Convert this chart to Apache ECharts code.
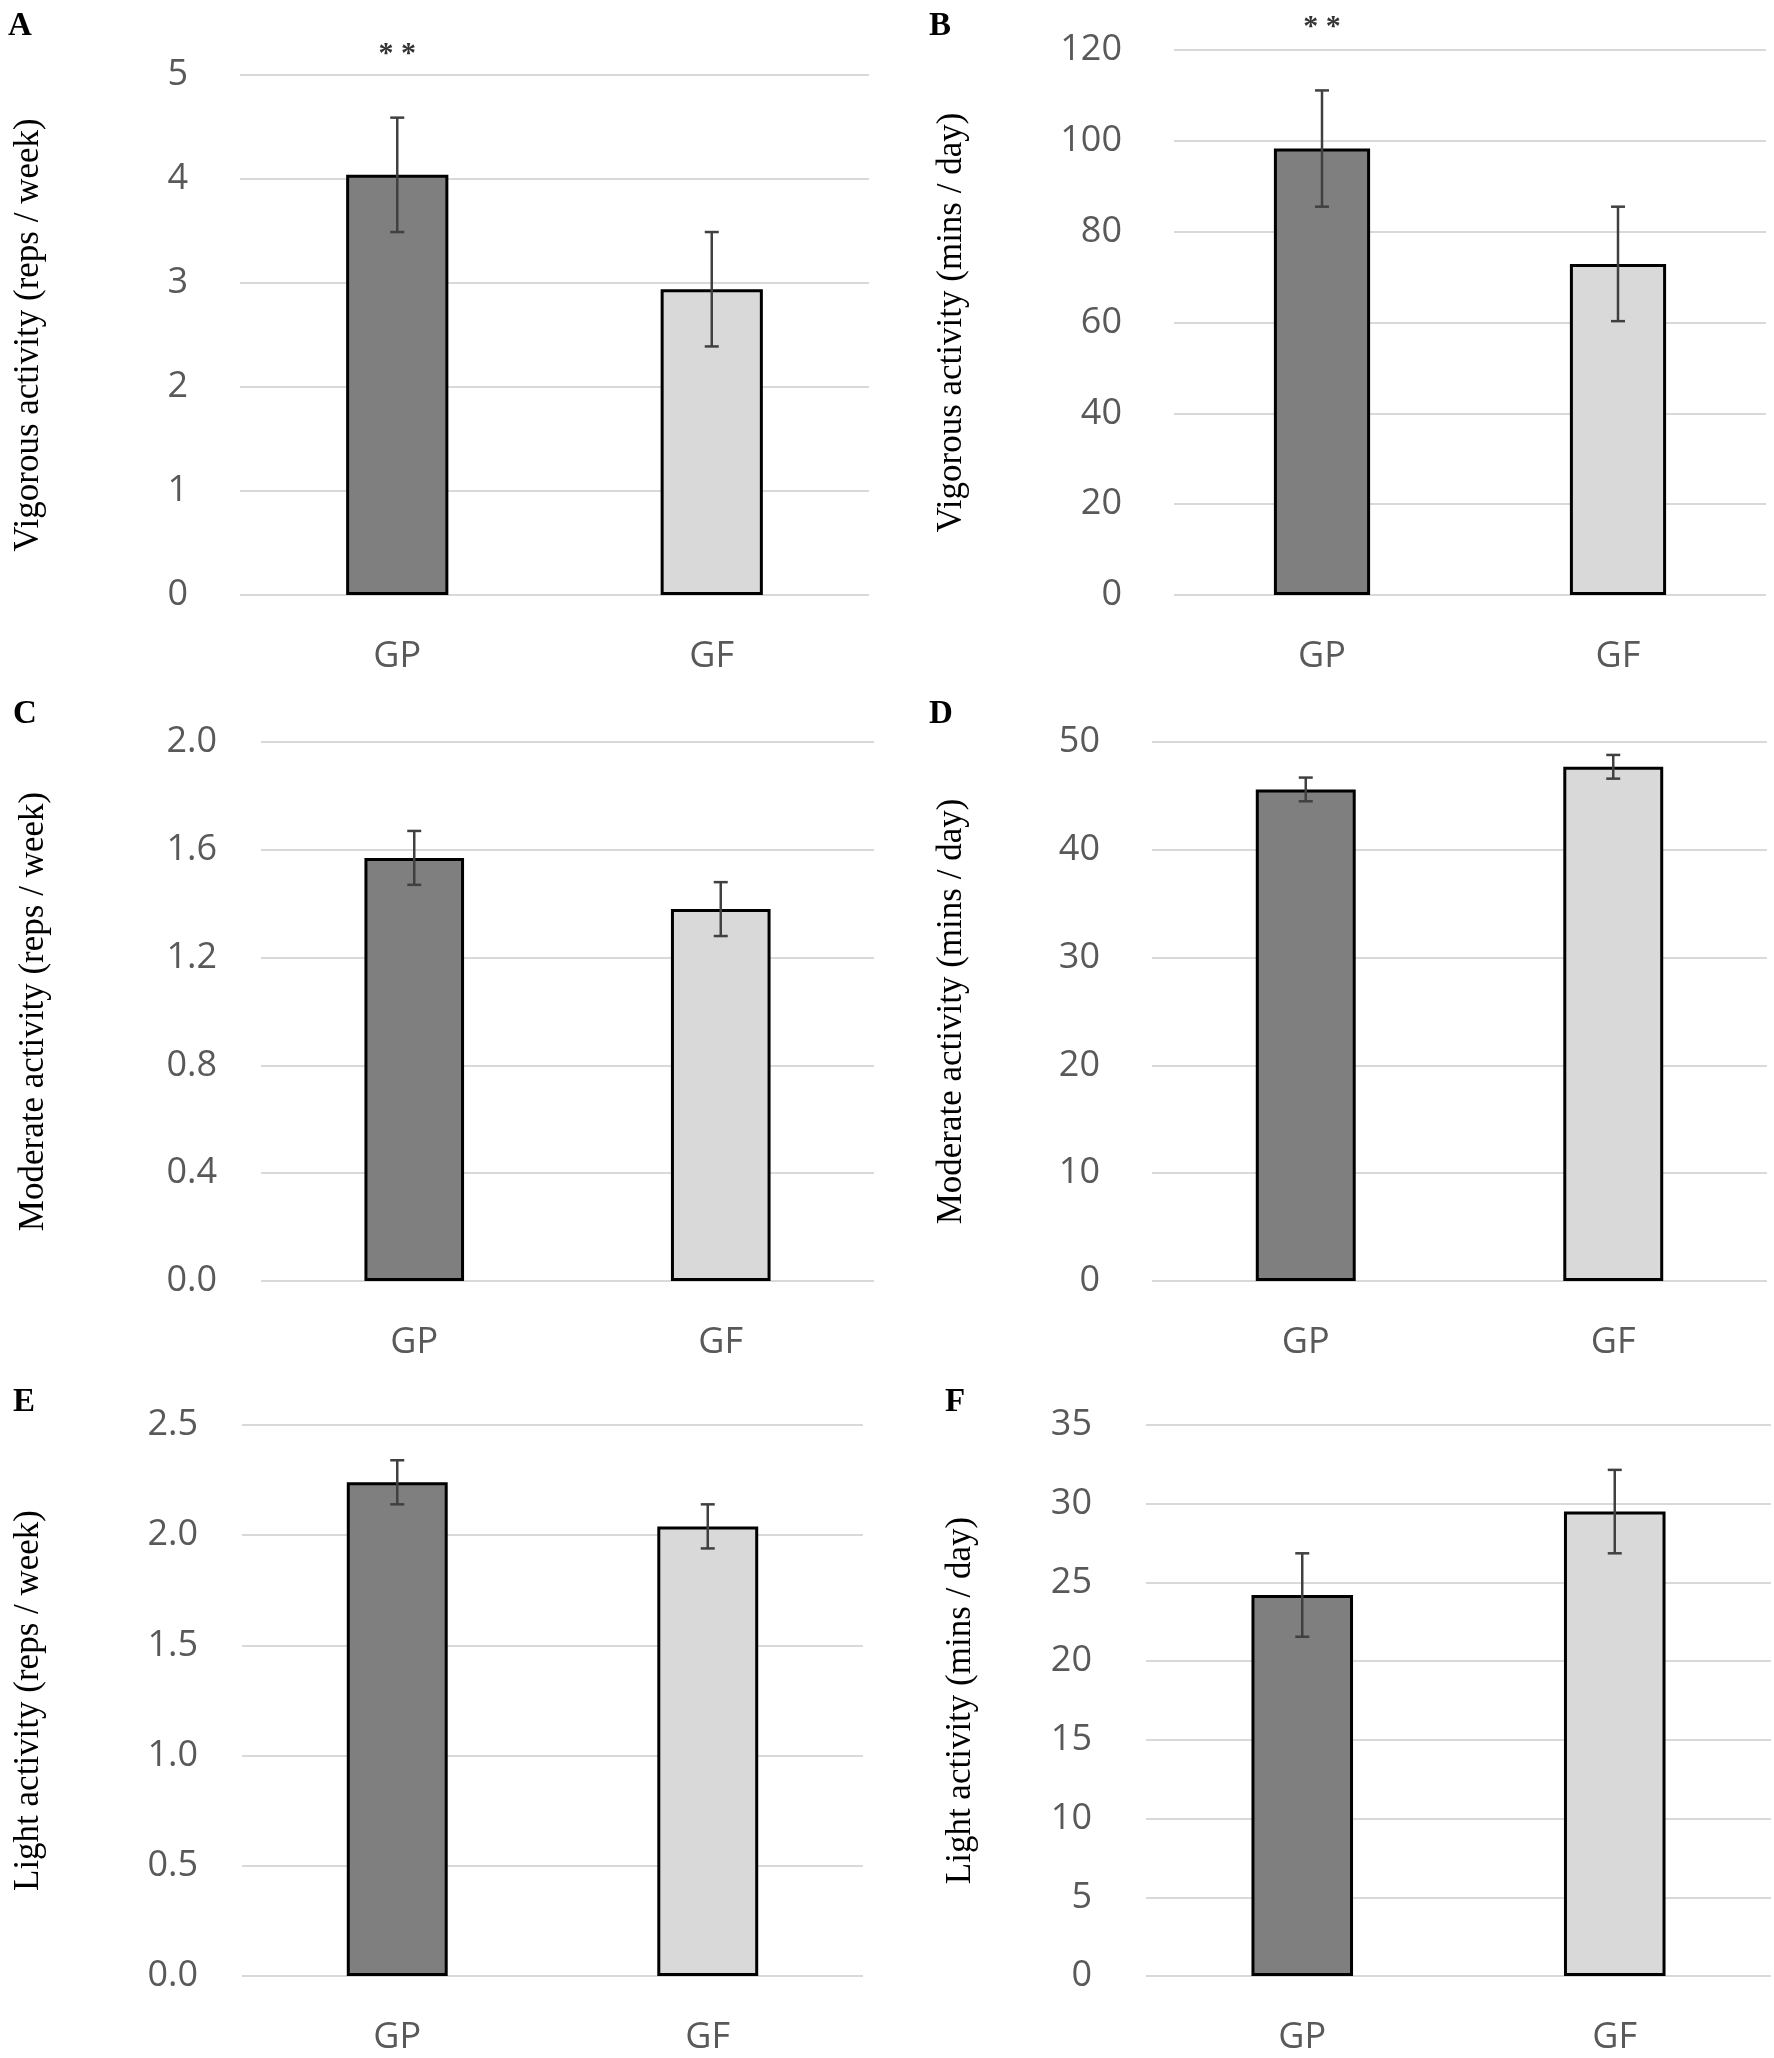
<!DOCTYPE html>
<html>
<head>
<meta charset="utf-8">
<script src="https://cdn.jsdelivr.net/npm/echarts@6/dist/echarts.min.js"></script>
<style>
html,body{margin:0;padding:0;background:#fff;}
#chart{width:1774px;height:2058px;}
</style>
</head>
<body>
<div id="chart"></div>
<script>
// ---- data ----
const categories = ['GP', 'GF'];
const vigorousReps = [4.04, 2.94];
const vigorousRepsErr = [0.55, 0.55];
const vigorousMins = [98.3, 72.9];
const vigorousMinsErr = [12.8, 12.6];
const moderateReps = [1.57, 1.38];
const moderateRepsErr = [0.10, 0.10];
const moderateMins = [45.6, 47.7];
const moderateMinsErr = [1.1, 1.1];
const lightReps = [2.24, 2.04];
const lightRepsErr = [0.10, 0.10];
const lightMins = [24.2, 29.5];
const lightMinsErr = [2.65, 2.65];
const panelLetters = ['A', 'B', 'C', 'D', 'E', 'F'];
const yTitles = [
  'Vigorous activity (reps / week)',
  'Vigorous activity (mins / day)',
  'Moderate activity (reps / week)',
  'Moderate activity (mins / day)',
  'Light activity (reps / week)',
  'Light activity (mins / day)'
];
const yMax = [5, 120, 2.0, 50, 2.5, 35];
const yInterval = [1, 20, 0.4, 10, 0.5, 5];
const yDecimals = [0, 0, 1, 0, 1, 0];
const significance = ['* *', '* *', '', '', '', ''];
const sigLevel = [5.2, 125, null, null, null, null];

const means = [vigorousReps, vigorousMins, moderateReps, moderateMins, lightReps, lightMins];
const errs = [vigorousRepsErr, vigorousMinsErr, moderateRepsErr, moderateMinsErr, lightRepsErr, lightMinsErr];

// ---- layout ----
const grids = [
  {left: 240, top: 75, width: 629, height: 520},
  {left: 1174, top: 50, width: 592, height: 545},
  {left: 261, top: 742, width: 613, height: 539},
  {left: 1152, top: 742, width: 615, height: 539},
  {left: 242, top: 1425, width: 621, height: 551},
  {left: 1146, top: 1425, width: 625, height: 551}
];
const nameGaps = [194, 205, 210, 183, 196, 168];
const labelMargins = [52, 52, 44, 52, 44, 54];
const letterPos = [[3, 5], [924, 5], [8, 693], [924, 693], [8, 1381], [940, 1381]];
const barColors = ['#7f7f7f', '#d9d9d9'];

const chart = echarts.init(document.getElementById('chart'), null, {renderer: 'canvas'});

const option = {
  backgroundColor: '#ffffff',
  animation: false,
  title: panelLetters.map((t, i) => ({
    text: t, left: letterPos[i][0], top: letterPos[i][1],
    textStyle: {fontFamily: 'Liberation Serif', fontWeight: 'bold', fontSize: 33, color: '#000'}
  })),
  grid: grids,
  xAxis: grids.map((g, i) => ({
    type: 'category', gridIndex: i, data: categories,
    axisLine: {show: false}, axisTick: {show: false},
    axisLabel: {margin: 44, fontFamily: 'Open Sans', fontSize: 36, color: '#595959'}
  })),
  yAxis: grids.map((g, i) => ({
    type: 'value', gridIndex: i, min: 0, max: yMax[i], interval: yInterval[i],
    name: yTitles[i], nameLocation: 'middle', nameRotate: 90, nameGap: nameGaps[i],
    nameTextStyle: {fontFamily: 'Liberation Serif', fontSize: 35, color: '#000'},
    axisLine: {show: false}, axisTick: {show: false},
    axisLabel: {
      margin: labelMargins[i], fontFamily: 'Open Sans', fontSize: 36, color: '#595959',
      formatter: v => v.toFixed(yDecimals[i])
    },
    splitLine: {show: true, lineStyle: {color: '#d9d9d9', width: 2}}
  })),
  series: []
};

for (let i = 0; i < 6; i++) {
  option.series.push({
    type: 'bar', xAxisIndex: i, yAxisIndex: i, barWidth: '32.5%',
    data: means[i].map((v, k) => ({
      value: v,
      itemStyle: {color: barColors[k], borderColor: '#000', borderWidth: 3}
    })),
    z: 2
  });
  option.series.push({
    type: 'custom', xAxisIndex: i, yAxisIndex: i, z: 5,
    data: means[i].map((v, k) => [k, v - errs[i][k], v + errs[i][k]]),
    renderItem: function (params, api) {
      const x = api.value(0);
      const lo = api.coord([x, api.value(1)]);
      const hi = api.coord([x, api.value(2)]);
      const cw = 7;
      const style = {stroke: '#404040', lineWidth: 2.5};
      return {
        type: 'group',
        children: [
          {type: 'line', shape: {x1: lo[0], y1: lo[1], x2: hi[0], y2: hi[1]}, style: style},
          {type: 'line', shape: {x1: hi[0] - cw, y1: hi[1], x2: hi[0] + cw, y2: hi[1]}, style: style},
          {type: 'line', shape: {x1: lo[0] - cw, y1: lo[1], x2: lo[0] + cw, y2: lo[1]}, style: style}
        ]
      };
    }
  });
  if (significance[i]) {
    option.series.push({
      type: 'scatter', xAxisIndex: i, yAxisIndex: i, clip: false, symbolSize: 0,
      data: [[categories[0], sigLevel[i]]],
      label: {show: true, position: 'inside', formatter: significance[i],
        fontFamily: 'Liberation Serif', fontWeight: 'bold', fontSize: 30, color: '#000'},
      z: 6
    });
  }
}

chart.setOption(option);
</script>
</body>
</html>
